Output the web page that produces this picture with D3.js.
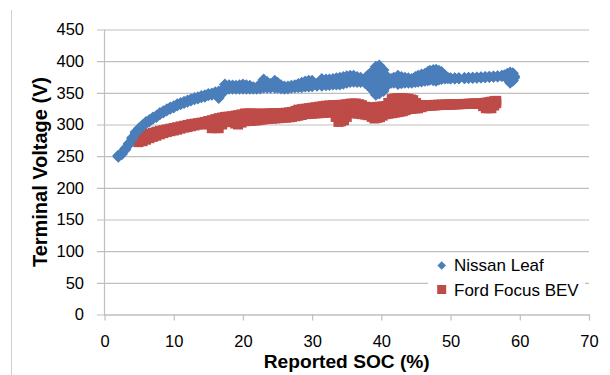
<!DOCTYPE html>
<html><head><meta charset="utf-8">
<script src="https://cdn.jsdelivr.net/npm/d3@7"></script>
<style>body{margin:0;background:#fff}svg{display:block}text{font-family:"Liberation Sans",Arial,sans-serif;fill:#000}</style>
</head><body>
<script>
// ---- data ----
const xTicks = [0,10,20,30,40,50,60,70];
const yTicks = [0,50,100,150,200,250,300,350,400,450];
const seriesNames = ["Nissan Leaf","Ford Focus BEV"];
const xTitle = "Reported SOC (%)";
const yTitle = "Terminal Voltage (V)";

// each SOC: upper and lower voltage of the point cloud
const leafSOC = [2.0,2.5,3.0,3.5,4.0,4.5,5.0,5.5,6.0,6.5,7.0,7.5,8.0,8.5,9.0,9.5,10.0,10.5,11.0,11.5,12.0,12.5,13.0,13.5,14.0,14.5,15.0,15.5,16.0,16.5,17.0,
  17.4,18.0,18.5,19.0,19.5,20.0,20.5,21.0,21.5,22.0,22.5,23.0,23.5,24.0,24.6,25.0,25.5,26.0,26.5,27.0,27.5,28.0,28.5,29.0,29.5,30.0,30.7,31.4,32.0,32.5,33.0,33.5,34.0,34.5,35.0,35.5,36.0,36.5,37.0,37.6,38.0,38.4,38.7,39.2,39.7,40.3,40.7,41.0,41.4,41.8,42.4,42.9,43.4,43.9,44.4,44.9,45.3,45.8,46.3,46.7,47.0,47.5,47.9,48.3,48.7,49.2,49.6,
  50.0,50.6,51.2,52.0,52.6,53.2,53.8,54.4,55.0,55.6,56.2,56.8,57.4,57.8,58.2,58.6,59.0,59.2];
const leafHi = [251,255,262,270,279,288,294,299,304,307,311,314,318,321,324,327,329,332,334,336,338,340,342,343,345,346,348,349,351,352,354,
  363,362,361.5,361,362,363,362,361,359,358,364,371,367,364,369,366,362,360,360,361,362,364,366,368,369,369,364,372,371,371,372,373,374,375,376,377,377,375,374,369,377,381,383,391,393,386,377,369,372,374,377,375,374,373,372,375,377,379,380,383,385,386,386.5,385,383,377,374,
  373,373,373.2,373.5,374,374,374.3,374.6,375,375.3,375.7,376.3,377,377.7,380,382,381,376];
const leafLo = [249,253,260,268,277,286,292,297,302,305,309,312,316,319,322,325,327,330,332,334,336,338,340,341,343,344,346,347,349,342,349,
  356.5,356.5,356.5,356.5,356.5,356.5,356.5,356.5,356.5,356.5,357,358,358,358,358,358,357,356.5,357,358,358.5,359,359,360,360,360.5,361,361,362,362.5,363,363,363,364.5,366,367,367.5,367,367,366,363,358,355,347,349,353,360,366,366,366,364,365,366,366,366,367,367.5,368,369,370,370.5,370,369,371,372,372.5,373,
  372.5,372.5,373,373,373.5,373.7,374,374.2,374.5,375,375.3,375.9,376.5,377,372,366,369,374];

const fordSOC = [4.9,5.5,6.0,6.5,7.0,7.5,8.0,8.5,9.0,9.5,10.0,10.5,11.0,11.5,12.0,12.5,13.0,13.5,14.0,14.5,15.0,15.5,16.0,16.5,17.0,17.4,17.9,18.4,18.9,19.3,19.8,20.3,20.8,21.2,21.7,22.2,22.7,23.2,23.7,24.2,24.7,25.2,25.7,26.2,26.7,27.1,27.6,28.0,28.5,29.0,29.5,30.0,30.5,31.0,31.5,32.0,32.5,33.0,33.4,33.8,34.2,34.6,35.0,35.5,35.9,36.3,36.8,37.2,37.7,38.1,38.6,39.0,39.4,39.8,40.2,40.6,41.0,41.5,41.9,42.3,42.7,43.1,43.5,43.9,44.3,44.6,45.0,45.3,45.8,46.2,46.7,47.2,47.7,48.2,48.7,49.2,49.7,50.2,50.7,51.2,51.7,52.2,52.7,53.2,53.7,54.2,54.7,55.1,55.5,55.9,56.3,56.6];
const fordHi = [278.4,280.7,283,285.5,287,288.6,290,291,292.3,293.4,294.5,295.7,297,298.1,299.3,300.5,301.3,302.1,303,304.1,305.5,306.8,308.5,310,311,312,312.5,313.1,314,314.7,316,317.4,317.4,317.4,317.2,317.1,317.1,317.1,317.5,317.8,317.8,317.8,318.2,318.6,319.2,319.9,321.5,323.4,324.2,325,325.8,326.5,327.3,328.1,328.9,329.7,330.1,330.5,330.5,330.5,331,331.3,332,332.9,333,333.2,332,330.5,328,325.8,326.5,327.3,327.7,328.1,328.5,328.9,334,340,341,341.5,341.5,341.5,341,340.7,339.5,338.4,334,330.5,330.5,330.5,330.5,330.5,331,331.3,331.3,331.5,331.6,331.8,332,332.2,332.4,332.6,332.8,333,333,333.2,333.8,334.4,335.2,336,336.8,337.3];
const fordLo = [272.1,273.6,276,278.4,280.5,282.3,284.5,286.3,288,289.4,290.5,291.8,293.5,295,296,297.3,298.5,299.7,300.5,301.6,300,294.2,294.2,294.2,300,304.1,304,303.6,301.5,300,303,305.2,305.5,305.7,306.2,306.8,307.6,308.4,308.8,309.2,309.6,310,310.4,310.7,311.3,312,313,313.9,315,316.3,316.7,317.1,317.5,317.8,318.2,318.6,319,319.4,312,304.1,305,306.8,312,317.8,317.8,317.8,317,316.3,315.5,314.7,312,309.5,310.5,311.5,314,316.3,317,317.8,318.6,319.4,320.2,321,322.6,324.2,324.8,325.3,325.5,325.7,327.3,328.9,329.3,329.7,330,330.5,331,331.1,331.4,331.6,331.8,332,332.2,332.3,332.6,332.8,332.9,332.8,329,325.7,325.7,325.7,330,333.6];

// ---- layout ----
const W = 610, H = 375;
const L = 104.5, R = 589, T = 29.5, B = 314.5;
const blue = "#4a7ebb", red = "#be4b48";

const svg = d3.select("body").append("svg").attr("width", W).attr("height", H);

const x = d3.scaleLinear().domain([0,70]).range([L,R]);
const y = d3.scaleLinear().domain([0,450]).range([B,T]);

// chart border (left edge)
svg.append("line").attr("x1",11.5).attr("x2",11.5).attr("y1",10).attr("y2",H)
  .attr("stroke","#d0d0d0").attr("stroke-width",1);

// y axis: gridlines + labels
const yAx = svg.append("g").attr("transform",`translate(97,0)`)
  .call(d3.axisLeft(y).tickValues(yTicks).tickSizeInner(-(R-97)).tickSizeOuter(0).tickPadding(13).tickFormat(d3.format("d")));
yAx.select(".domain").remove();
yAx.selectAll("line").attr("stroke","#bfbfbf").attr("stroke-width",1.2);
yAx.selectAll("text").attr("font-size",16.5).attr("font-family","Liberation Sans");

// vertical axis line
svg.append("line").attr("x1",L).attr("x2",L).attr("y1",T).attr("y2",B+0.5)
  .attr("stroke","#bfbfbf").attr("stroke-width",1.2);

// x axis
const xAx = svg.append("g").attr("transform",`translate(0,${B})`)
  .call(d3.axisBottom(x).tickValues(xTicks).tickSizeInner(6).tickSizeOuter(0).tickFormat(d3.format("d")));
xAx.select(".domain").attr("stroke","#bfbfbf").attr("stroke-width",1.2);
xAx.selectAll("line").attr("stroke","#bfbfbf").attr("stroke-width",1.2);
xAx.selectAll("text").attr("font-size",16.5).attr("font-family","Liberation Sans").attr("y",32.5).attr("dy",0);

// titles
svg.append("text").attr("x",(L+R)/2).attr("y",368).attr("text-anchor","middle")
  .attr("font-weight","bold").attr("font-size",18.5).attr("textLength",166).attr("lengthAdjust","spacingAndGlyphs")
  .text(xTitle);
svg.append("text").attr("transform",`translate(47,172) rotate(-90)`).attr("text-anchor","middle")
  .attr("font-weight","bold").attr("font-size",19.5).attr("textLength",190).attr("lengthAdjust","spacingAndGlyphs")
  .text(yTitle);

// markers: each SOC spans a dense cloud from lo to hi
const diamond = (s) => `M0,${-s}L${s},0L0,${s}L${-s},0Z`;
function pts(soc, hi, lo){
  const out = [];
  soc.forEach((s,i)=>{ out.push([s,lo[i]]); out.push([s,hi[i]]); });
  return out;
}
const fordPts = pts(fordSOC, fordHi, fordLo);
const leafPts = pts(leafSOC, leafHi, leafLo);

const gF = svg.append("g");
gF.selectAll("rect.span").data(fordSOC).join("rect").attr("class","span")
  .attr("x",(d)=>x(d)-5).attr("width",10)
  .attr("y",(d,i)=>y(fordHi[i])).attr("height",(d,i)=>y(fordLo[i])-y(fordHi[i]))
  .attr("fill",red);
gF.selectAll("rect.pt").data(fordPts).join("rect").attr("class","pt")
  .attr("x",d=>x(d[0])-5).attr("y",d=>y(d[1])-5).attr("width",10).attr("height",10)
  .attr("fill",red);

const gL = svg.append("g");
gL.selectAll("rect.span").data(leafSOC).join("rect").attr("class","span")
  .attr("x",(d)=>x(d)-3.5).attr("width",7)
  .attr("y",(d,i)=>y(leafHi[i])).attr("height",(d,i)=>y(leafLo[i])-y(leafHi[i]))
  .attr("fill",blue);
gL.selectAll("path").data(leafPts).join("path")
  .attr("transform",d=>`translate(${x(d[0])},${y(d[1])})`).attr("d",diamond(6))
  .attr("fill",blue);

// legend
const lg = svg.append("g");
lg.append("rect").attr("x",428).attr("y",254).attr("width",157).attr("height",52).attr("fill","#fff");
lg.append("path").attr("transform","translate(441.7,265.5)").attr("d",diamond(4.3)).attr("fill",blue);
lg.append("rect").attr("x",437.2).attr("y",285).attr("width",9).attr("height",9).attr("fill",red);
lg.append("text").attr("x",454).attr("y",271).attr("font-size",17).text(seriesNames[0]);
lg.append("text").attr("x",454).attr("y",295.5).attr("font-size",17).text(seriesNames[1]);
</script>
</body></html>
